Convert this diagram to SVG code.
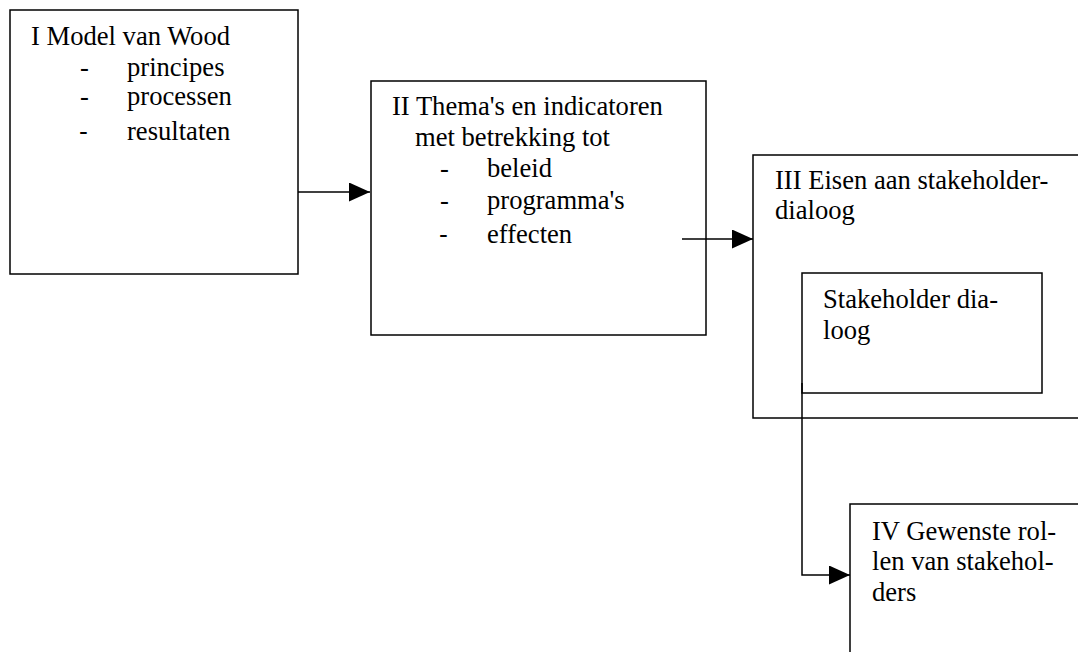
<svg xmlns="http://www.w3.org/2000/svg" width="1078" height="652" viewBox="0 0 1078 652">
<style>
.box{fill:none;stroke:#000;stroke-width:1.5}
.t{font-family:"Liberation Serif","Times New Roman",serif;font-size:26.6px;fill:#000}
.d{font-family:"Liberation Sans",Arial,sans-serif;font-size:26.6px;fill:#000}
.c{fill:none;stroke:#000;stroke-width:1.5}
</style>
<defs>
<marker id="ah" markerWidth="21" markerHeight="19" refX="21" refY="9.5" orient="auto" markerUnits="userSpaceOnUse">
<path d="M0,0 L21,9.5 L0,19 Z" fill="#000"/>
</marker>
</defs>
<rect width="1078" height="652" fill="#fff"/>
<g id="node-I">
<rect class="box" x="10" y="10" width="288" height="264"/>
<text class="t" x="31" y="45">I Model van Wood</text>
<text class="t" x="80" y="76">-</text><text class="t" x="127" y="76">principes</text>
<text class="t" x="80" y="105">-</text><text class="t" x="127" y="105">processen</text>
<text class="d" x="79" y="140">-</text><text class="t" x="127" y="140">resultaten</text>
</g>
<g id="node-II">
<rect class="box" x="371" y="81" width="335" height="254"/>
<text class="t" x="392" y="115">II Thema's en indicatoren</text>
<text class="t" x="415" y="146">met betrekking tot</text>
<text class="t" x="440" y="177">-</text><text class="t" x="487" y="177">beleid</text>
<text class="t" x="440" y="209">-</text><text class="t" x="487" y="209">programma's</text>
<text class="d" x="439" y="243">-</text><text class="t" x="487" y="243">effecten</text>
</g>
<g id="node-III">
<rect class="box" x="753" y="155" width="340" height="263"/>
<text class="t" x="775" y="189">III Eisen aan stakeholder-</text>
<text class="t" x="775" y="219">dialoog</text>
</g>
<g id="node-dialoog">
<rect class="box" x="802" y="273" width="240" height="120"/>
<text class="t" x="823" y="308">Stakeholder dia-</text>
<text class="t" x="823" y="339">loog</text>
</g>
<g id="node-IV">
<rect class="box" x="850" y="504" width="240" height="160"/>
<text class="t" x="872" y="540">IV Gewenste rol-</text>
<text class="t" x="872" y="570">len van stakehol-</text>
<text class="t" x="872" y="601">ders</text>
</g>
<g id="connectors">
<path class="c" d="M298,192 H370" marker-end="url(#ah)"/>
<path class="c" d="M682,239 H753" marker-end="url(#ah)"/>
<path class="c" d="M802,383 V575 H850" marker-end="url(#ah)"/>
</g>
</svg>
